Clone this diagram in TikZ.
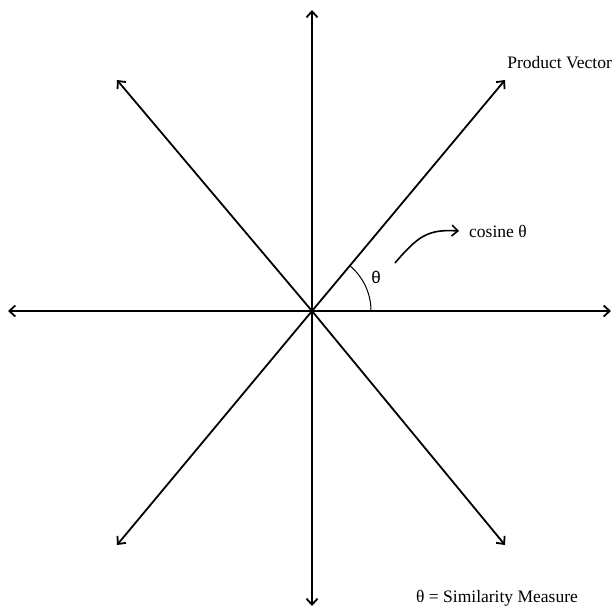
\documentclass[tikz,border=0pt]{standalone}
\usepackage{fontspec}
\setmainfont{Liberation Serif}
\setsansfont{Liberation Sans}
\usetikzlibrary{arrows.meta}

\begin{document}
\begin{tikzpicture}[
  x=1pt, y=-1pt,
  axis/.style={-{Straight Barb[length=6pt,width=11pt]}, line width=1.8pt},
  pointer/.style={-{Straight Barb[length=6pt,width=11pt]}, line width=1.6pt},
  lbl/.style={font=\fontsize{17.5}{20}\selectfont, inner sep=0pt}
]
\useasboundingbox (0,0) rectangle (613,608);

%% Origin and axis ends
\coordinate (o) at (312,311);
\coordinate (up) at (312,10);
\coordinate (down) at (312,606);
\coordinate (left) at (8,311);
\coordinate (right) at (611,311);
\coordinate (ne) at (505,80);
\coordinate (nw) at (117,80);
\coordinate (sw) at (117,545);
\coordinate (se) at (505,545);

\foreach \e in {up,down,left,right,ne,nw,sw,se}
  \draw[axis] (o) -- (\e);

%% Angle between product vector and horizontal
\draw[line width=1pt] (371,311) arc[start angle=0, end angle=-50, radius=59];
\node[lbl, font=\sffamily\fontsize{17}{20}\selectfont] (th) at (376,277) {θ};

%% Labels
\node[lbl, anchor=base east] (pv) at (612,68) {Product Vector};
\node[lbl, anchor=west] (cs) at (469,231) {cosine θ};
\node[lbl, anchor=base west] (sm) at (416,602) {θ = Similarity Measure};

\coordinate (cstart) at (395,263);
\draw[pointer] (cstart) .. controls (418,236) and (428,229) .. ([xshift=-10pt]cs.west);
\end{tikzpicture}
\end{document}
